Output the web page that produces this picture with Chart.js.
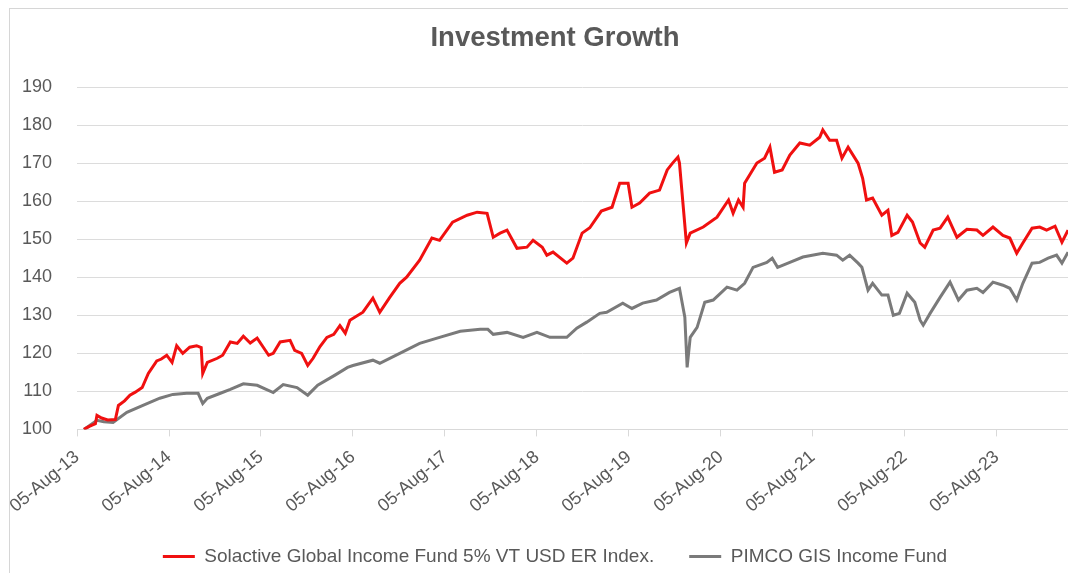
<!DOCTYPE html>
<html lang="en">
<head>
  <meta charset="UTF-8">
  <title>Investment Growth</title>
  <script src="https://cdn.jsdelivr.net/npm/chart.js"></script>
  <style>
    html, body {
      margin: 0;
      padding: 0;
      background: #fff;
      overflow: hidden;
      width: 1068px;
      height: 573px;
    }
    #frame {
      position: absolute;
      left: 9px;
      top: 8px;
      width: 2000px;
      height: 2000px;
      border: 1px solid #d6d6d6;
    }
    #grafico-container {
      position: absolute;
      left: 0;
      top: 0;
      width: 1088px;
      height: 576px;
    }
  </style>
</head>
<body>
  <div id="frame"></div>
  <div id="grafico-container">
    <canvas id="grafico"></canvas>
  </div>

  <script>
    // x = months since 05-Aug-13
    const tickLabels = ["05-Aug-13", "05-Aug-14", "05-Aug-15", "05-Aug-16", "05-Aug-17", "05-Aug-18",
                        "05-Aug-19", "05-Aug-20", "05-Aug-21", "05-Aug-22", "05-Aug-23"];

    const solactiveMonths = [0.9, 1.6, 2.4, 2.6, 3.2, 4.0, 5.0, 5.4, 6.2, 6.9, 7.6, 8.5, 9.3, 10.4, 11.0, 11.7,
      12.4, 13.0, 13.8, 14.7, 15.6, 16.2, 16.4, 17.0, 18.3, 19.0, 20.0, 20.9, 21.7, 22.6, 23.5, 24.3,
      25.0, 25.6, 26.5, 27.8, 28.4, 29.3, 30.1, 30.8, 31.7, 32.6, 33.5, 34.3, 35.0, 35.6, 37.3, 38.6,
      39.5, 40.8, 42.1, 43.0, 44.7, 46.3, 47.3, 49.0, 50.9, 52.2, 53.5, 54.3, 55.2, 56.1, 57.4, 58.7,
      59.5, 60.7, 61.3, 62.1, 63.9, 64.7, 65.9, 66.9, 68.4, 69.8, 70.8, 71.9, 72.4, 73.4, 74.7, 76.0,
      77.0, 77.7, 78.4, 78.6, 79.5, 80.0, 81.7, 83.5, 85.0, 85.6, 86.3, 86.9, 87.1, 88.7, 89.7, 90.4,
      91.0, 92.0, 93.0, 94.3, 95.6, 96.9, 97.3, 98.2, 99.1, 99.8, 100.6, 101.9, 102.5, 103.0, 103.8, 105.0,
      105.8, 106.3, 107.1, 108.3, 109.0, 110.0, 110.6, 111.7, 112.6, 113.6, 114.8, 116.1, 117.4, 118.2, 119.5, 120.8,
      121.7, 122.6, 123.4, 124.6, 125.6, 126.5, 127.6, 128.5, 129.3];
    const solactiveValues = [100.0, 100.8, 101.5, 103.7, 103.0, 102.5, 102.6, 106.3, 107.5, 109.0, 109.8, 111.0, 114.7, 118.0, 118.5, 119.5,
      117.6, 122.0, 120.0, 121.6, 122.0, 121.5, 114.7, 117.6, 118.7, 119.5, 123.0, 122.6, 124.5, 122.7, 124.0, 121.6,
      119.5, 120.0, 123.0, 123.4, 120.8, 120.0, 116.8, 118.7, 121.8, 124.2, 125.0, 127.3, 125.3, 128.7, 130.8, 134.5,
      130.8, 134.7, 138.4, 140.0, 144.5, 150.3, 149.7, 154.5, 156.3, 157.1, 156.8, 150.5, 151.6, 152.4, 147.6, 147.9,
      149.7, 147.9, 145.8, 146.6, 143.7, 145.0, 151.6, 153.0, 157.4, 158.4, 164.7, 164.7, 158.4, 159.5, 162.1, 162.9,
      168.2, 170.0, 171.6, 170.0, 149.0, 151.6, 153.2, 155.8, 160.3, 156.8, 160.3, 158.4, 164.7, 170.0, 171.3, 174.2,
      167.6, 168.2, 172.1, 175.3, 174.7, 176.8, 178.7, 176.0, 176.0, 171.3, 174.2, 170.0, 166.0, 160.3, 160.8, 156.3,
      157.6, 151.0, 151.8, 156.3, 154.5, 149.0, 147.9, 152.4, 152.9, 155.8, 150.5, 152.6, 152.4, 151.0, 153.2, 151.0,
      150.3, 146.3, 149.0, 152.9, 153.2, 152.4, 153.4, 149.2, 152.4];

    const pimcoMonths = [0.9, 2.6, 3.5, 4.7, 6.5, 8.6, 10.8, 12.5, 14.3, 15.8, 16.4, 17.0, 18.7, 20.0, 21.7, 23.5,
      25.6, 26.9, 28.7, 30.1, 31.4, 33.6, 35.3, 36.0, 38.6, 39.5, 42.1, 44.7, 47.3, 50.0, 52.6, 53.6,
      54.3, 56.1, 58.2, 60.0, 61.7, 63.9, 65.2, 66.5, 68.2, 69.1, 71.2, 72.4, 73.8, 75.6, 77.3, 78.6,
      79.3, 79.6, 80.0, 80.9, 81.9, 83.0, 84.8, 86.1, 87.1, 88.2, 90.0, 90.7, 91.4, 93.0, 94.7, 97.3,
      99.1, 99.9, 100.8, 101.9, 102.4, 103.2, 103.8, 105.0, 105.8, 106.5, 107.3, 108.3, 109.3, 110.0, 110.4, 111.3,
      112.6, 113.9, 115.0, 116.1, 117.4, 118.2, 119.5, 120.8, 121.7, 122.6, 123.4, 124.6, 125.6, 126.7, 127.8, 128.5,
      129.3];
    const pimcoValues = [100.0, 102.4, 102.0, 101.8, 104.5, 106.3, 108.2, 109.2, 109.5, 109.5, 106.8, 108.2, 109.5, 110.5, 112.0, 111.6,
      109.7, 111.8, 111.0, 109.0, 111.6, 114.2, 116.3, 116.8, 118.2, 117.4, 120.0, 122.6, 124.2, 125.8, 126.3, 126.3,
      125.0, 125.5, 124.2, 125.5, 124.2, 124.2, 126.6, 128.2, 130.5, 130.8, 133.2, 131.8, 133.2, 134.0, 136.0, 137.1,
      129.5, 116.3, 124.2, 126.8, 133.4, 134.0, 137.4, 136.6, 138.4, 142.6, 143.9, 145.0, 142.6, 143.9, 145.3, 146.3,
      145.8, 144.5, 145.8, 143.7, 142.6, 136.6, 138.4, 135.3, 135.3, 130.0, 130.5, 135.8, 133.4, 128.7, 127.4, 130.5,
      134.7, 138.7, 134.0, 136.6, 137.1, 136.0, 138.7, 137.9, 137.1, 134.0, 138.4, 143.7, 143.9, 145.0, 145.8, 143.7,
      146.6];

    const fonte = "'Liberation Sans', Arial, sans-serif";
    const cinza = "#595959";

    const ctx = document.getElementById("grafico").getContext("2d");
    new Chart(ctx, {
      type: "line",
      data: {
        datasets: [{
          label: "Solactive Global Income Fund 5% VT USD ER Index.",
          data: solactiveMonths.map((m, i) => ({ x: m, y: solactiveValues[i] })),
          borderColor: "#f01010",
          backgroundColor: "#f01010",
          borderWidth: 3,
          pointRadius: 0,
          tension: 0
        }, {
          label: "PIMCO GIS Income Fund",
          data: pimcoMonths.map((m, i) => ({ x: m, y: pimcoValues[i] })),
          borderColor: "#7a7a7a",
          backgroundColor: "#7a7a7a",
          borderWidth: 3,
          pointRadius: 0,
          tension: 0
        }]
      },
      options: {
        responsive: true,
        maintainAspectRatio: false,
        animation: false,
        layout: { padding: { left: 22, right: 0, top: 0, bottom: 0 } },
        plugins: {
          title: {
            display: true,
            text: "Investment Growth",
            color: cinza,
            font: { family: fonte, size: 27.5, weight: "bold" },
            padding: { top: 22, bottom: 32 }
          },
          legend: {
            display: true,
            position: "bottom",
            labels: {
              color: cinza,
              font: { family: fonte, size: 19 },
              boxWidth: 32,
              boxHeight: 3,
              padding: 35,
              generateLabels: chart =>
                Chart.defaults.plugins.legend.labels.generateLabels(chart).map(l => ({ ...l, lineWidth: 0 }))
            }
          },
          tooltip: { enabled: false }
        },
        scales: {
          x: {
            type: "linear",
            min: 0,
            max: 131.9,
            // one tick per label, every 12 months
            afterBuildTicks: axis => {
              axis.ticks = tickLabels.map((_, i) => ({ value: i * 12 }));
            },
            afterFit: axis => {
              // rotated first label may hang over the left edge
              axis.paddingLeft = 0;
              axis.height -= 15;
            },
            ticks: {
              autoSkip: false,
              minRotation: 40,
              maxRotation: 40,
              color: cinza,
              font: { family: fonte, size: 18 },
              padding: 10,
              callback: v => tickLabels[v / 12]
            },
            grid: { drawOnChartArea: false, drawTicks: true, tickLength: 7, color: "#d9d9d9" },
            border: { color: "#d9d9d9" }
          },
          y: {
            min: 100,
            max: 190,
            afterFit: axis => {
              axis.width -= 25;
            },
            ticks: {
              stepSize: 10,
              color: cinza,
              font: { family: fonte, size: 18 },
              padding: 25
            },
            grid: { color: "#dcdcdc", drawTicks: false },
            border: { display: false }
          }
        }
      }
    });
  </script>
</body>
</html>
